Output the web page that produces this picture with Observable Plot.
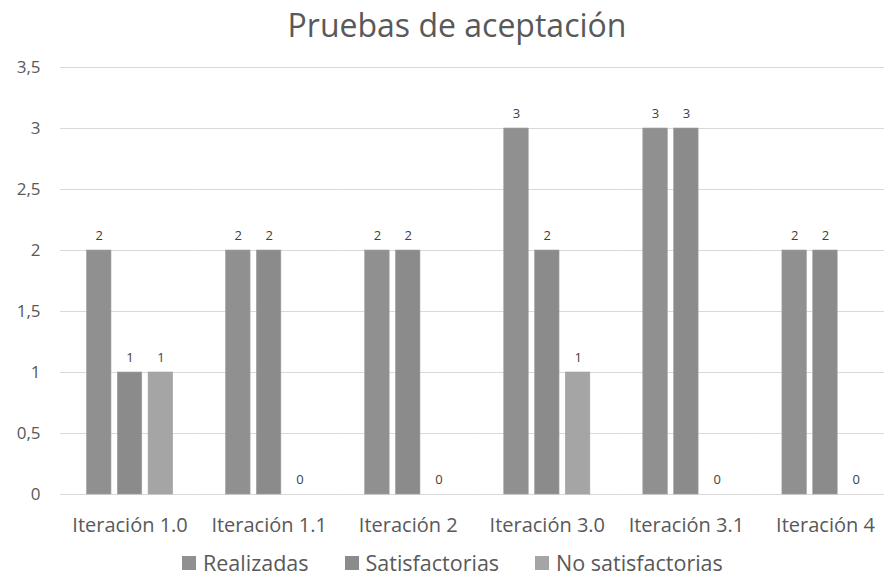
<!DOCTYPE html>
<html>
<head>
<meta charset="utf-8">
<script src="https://cdn.jsdelivr.net/npm/d3@7"></script>
<script src="https://cdn.jsdelivr.net/npm/@observablehq/plot@0.6"></script>
<style>
  html, body { margin: 0; padding: 0; background: #fff; overflow: hidden; }
  body { width: 884px; height: 578px; font-family: "Open Sans", sans-serif; color: #595959; }
  #title { box-sizing: border-box; height: 50px; padding-top: 9px; padding-left: 30px; line-height: 32px; text-align: center; font-size: 32px; color: #595959; white-space: nowrap; }
  #legend { display: flex; justify-content: flex-start; align-items: center; height: 30px; padding-top: 8px; padding-left: 182px; font-size: 21.5px; line-height: 30px; color: #595959; white-space: nowrap; }
  #legend .item { display: flex; align-items: center; margin-right: 36px; }
  #legend .sw { width: 14px; height: 14px; margin-right: 7px; display: inline-block; }
  svg { overflow: hidden; display: block; }
</style>
</head>
<body>
<div id="title">Pruebas de aceptación</div>
<div id="chart"></div>
<div id="legend"></div>
<script>
const iterations = ["Iteración 1.0", "Iteración 1.1", "Iteración 2", "Iteración 3.0", "Iteración 3.1", "Iteración 4"];
const series = ["Realizadas", "Satisfactorias", "No satisfactorias"];
const realizadas = [2, 2, 2, 3, 3, 2];
const satisfactorias = [1, 2, 2, 2, 3, 2];
const noSatisfactorias = [1, 0, 0, 1, 0, 0];
const colors = ["#909090", "#8b8b8b", "#a5a5a5"];
const yTicks = [0, 0.5, 1, 1.5, 2, 2.5, 3, 3.5];

const values = [realizadas, satisfactorias, noSatisfactorias];
const data = [];
iterations.forEach((it, i) => {
  series.forEach((s, j) => data.push({iteration: it, series: s, value: values[j][i]}));
});

const chart = Plot.plot({
  width: 884,
  height: 490,
  marginLeft: 60,
  marginRight: -10.5,
  marginTop: 17,
  marginBottom: 46,
  style: {fontFamily: "'Open Sans', sans-serif", color: "#595959", background: "#fff"},
  fx: {domain: iterations, padding: 0, round: false, label: null},
  x: {domain: series, paddingInner: 0.205, paddingOuter: 0.86, round: false, axis: null},
  y: {domain: [0, 3.5], ticks: yTicks, label: null},
  color: {domain: series, range: colors},
  marks: [
    Plot.ruleY(yTicks, {stroke: "#d9d9d9", strokeWidth: 1}),
    Plot.axisY({ticks: yTicks, tickSize: 0, tickPadding: 20, fontSize: 17, fill: "#595959",
      tickFormat: d => String(d).replace(".", ","), label: null}),
    Plot.axisFx({anchor: "bottom", tickSize: 0, tickPadding: 23, fontSize: 20, fill: "#595959", label: null}),
    Plot.barY(data, {fx: "iteration", x: "series", y: "value", fill: "series", stroke: "#a0a0a0", strokeWidth: 0.6}),
    Plot.text(data, {fx: "iteration", x: "series", y: "value", text: d => String(d.value), dy: -15, fontSize: 13, fill: "#404040"})
  ]
});
document.getElementById("chart").appendChild(chart);

const legend = d3.select("#legend");
series.forEach((s, j) => {
  const item = legend.append("div").attr("class", "item");
  item.append("span").attr("class", "sw").style("background", colors[j]);
  item.append("span").text(s);
});
</script>
</body>
</html>
